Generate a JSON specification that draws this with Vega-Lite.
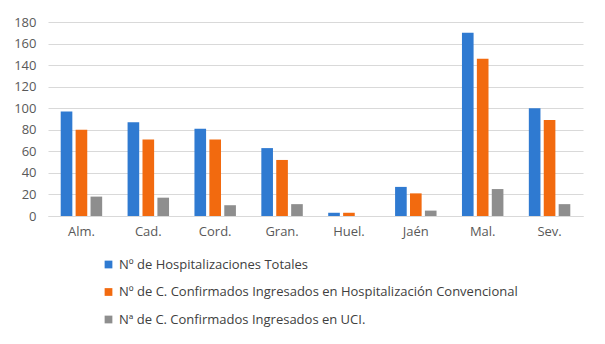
{
  "$schema": "https://vega.github.io/schema/vega-lite/v6.json",
  "autosize": "none",
  "width": 535,
  "height": 194,
  "padding": {"left": 48, "top": 22, "right": 22, "bottom": 128},
  "background": "white",
  "config": {
    "view": {"stroke": null},
    "font": "Open Sans",
    "axis": {"labelFont": "Open Sans", "labelColor": "#595959", "labelFontSize": 13}
  },
  "data": {
    "values": [
      {"prov": "Alm.", "serie": "Nº de Hospitalizaciones Totales", "v": 97},
      {"prov": "Alm.", "serie": "Nº de C. Confirmados Ingresados en Hospitalización Convencional", "v": 80},
      {"prov": "Alm.", "serie": "Nª de C. Confirmados Ingresados en UCI.", "v": 18},
      {"prov": "Cad.", "serie": "Nº de Hospitalizaciones Totales", "v": 87},
      {"prov": "Cad.", "serie": "Nº de C. Confirmados Ingresados en Hospitalización Convencional", "v": 71},
      {"prov": "Cad.", "serie": "Nª de C. Confirmados Ingresados en UCI.", "v": 17},
      {"prov": "Cord.", "serie": "Nº de Hospitalizaciones Totales", "v": 81},
      {"prov": "Cord.", "serie": "Nº de C. Confirmados Ingresados en Hospitalización Convencional", "v": 71},
      {"prov": "Cord.", "serie": "Nª de C. Confirmados Ingresados en UCI.", "v": 10},
      {"prov": "Gran.", "serie": "Nº de Hospitalizaciones Totales", "v": 63},
      {"prov": "Gran.", "serie": "Nº de C. Confirmados Ingresados en Hospitalización Convencional", "v": 52},
      {"prov": "Gran.", "serie": "Nª de C. Confirmados Ingresados en UCI.", "v": 11},
      {"prov": "Huel.", "serie": "Nº de Hospitalizaciones Totales", "v": 3},
      {"prov": "Huel.", "serie": "Nº de C. Confirmados Ingresados en Hospitalización Convencional", "v": 3},
      {"prov": "Huel.", "serie": "Nª de C. Confirmados Ingresados en UCI.", "v": 0},
      {"prov": "Jaén", "serie": "Nº de Hospitalizaciones Totales", "v": 27},
      {"prov": "Jaén", "serie": "Nº de C. Confirmados Ingresados en Hospitalización Convencional", "v": 21},
      {"prov": "Jaén", "serie": "Nª de C. Confirmados Ingresados en UCI.", "v": 5},
      {"prov": "Mal.", "serie": "Nº de Hospitalizaciones Totales", "v": 170},
      {"prov": "Mal.", "serie": "Nº de C. Confirmados Ingresados en Hospitalización Convencional", "v": 146},
      {"prov": "Mal.", "serie": "Nª de C. Confirmados Ingresados en UCI.", "v": 25},
      {"prov": "Sev.", "serie": "Nº de Hospitalizaciones Totales", "v": 100},
      {"prov": "Sev.", "serie": "Nº de C. Confirmados Ingresados en Hospitalización Convencional", "v": 89},
      {"prov": "Sev.", "serie": "Nª de C. Confirmados Ingresados en UCI.", "v": 11}
    ]
  },
  "mark": {"type": "bar"},
  "encoding": {
    "x": {
      "field": "prov", "type": "nominal", "sort": null, "title": null,
      "scale": {"paddingInner": 0.38, "paddingOuter": 0.19},
      "axis": {"labelAngle": 0, "ticks": false, "domainColor": "#d9d9d9", "labelPadding": 9, "labelFontSize": 13}
    },
    "xOffset": {
      "field": "serie", "type": "nominal",
      "sort": ["Nº de Hospitalizaciones Totales", "Nº de C. Confirmados Ingresados en Hospitalización Convencional", "Nª de C. Confirmados Ingresados en UCI."],
      "scale": {"paddingInner": 0.22}
    },
    "y": {
      "field": "v", "type": "quantitative", "title": null,
      "scale": {"domain": [0, 180], "nice": false},
      "axis": {"values": [0, 20, 40, 60, 80, 100, 120, 140, 160, 180], "domain": false, "ticks": false, "gridColor": "#d9d9d9", "labelPadding": 12}
    },
    "color": {
      "field": "serie", "type": "nominal", "title": null,
      "sort": ["Nº de Hospitalizaciones Totales", "Nº de C. Confirmados Ingresados en Hospitalización Convencional", "Nª de C. Confirmados Ingresados en UCI."],
      "scale": {"range": ["#2f7ad1", "#f26a0f", "#8e8e8e"]},
      "legend": {
        "orient": "none", "legendX": 54, "legendY": 236,
        "direction": "vertical", "symbolType": "square", "symbolSize": 60, "symbolStrokeWidth": 0,
        "labelFontSize": 13, "labelColor": "#404040", "labelLimit": 500, "rowPadding": 13.5, "labelOffset": 4
      }
    }
  }
}
